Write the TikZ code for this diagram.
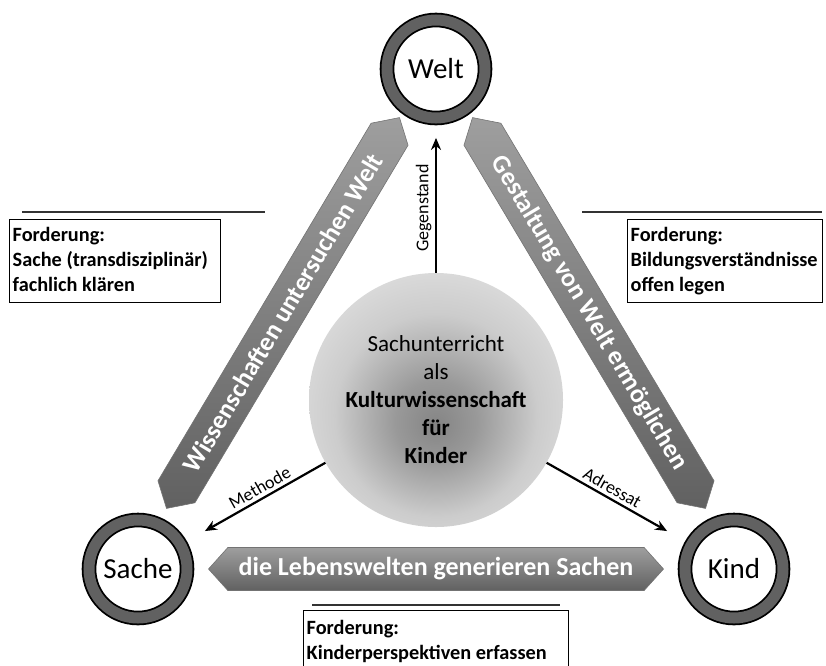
\documentclass[tikz,border=0pt]{standalone}
\usepackage{fontspec}
\setmainfont{Carlito}
\usetikzlibrary{shapes.symbols,positioning,arrows.meta,calc}
\pgfdeclareradialshading{kernschatten}{\pgfpoint{0bp}{-5bp}}{color(0bp)=(black!48); color(8bp)=(black!40); color(20bp)=(black!20); color(34bp)=(black!10); color(50bp)=(black!7)}

\begin{document}
\begin{tikzpicture}[x=1pt, y=-1pt,
  ring/.style={circle, draw=black, line width=1.8pt, double=black!62, double distance=11pt, fill=white, minimum size=98pt, inner sep=0pt, font=\fontsize{29}{34}\selectfont},
  kern/.style={circle, shade, shading=kernschatten, minimum size=254pt, inner sep=0pt, align=center, font=\fontsize{23}{28}\selectfont},
  balken/.style={signal, signal to=west and east, signal pointer angle=96, draw=black!55, line width=0.6pt, top color=black!38, bottom color=black!62, text=white, minimum width=455pt, minimum height=43pt, inner sep=0pt, font=\bfseries\fontsize{26}{30}\selectfont},
  pfeil/.style={-{Stealth[length=12pt, width=10pt]}, line width=2.2pt},
  rolle/.style={font=\fontsize{18}{21}\selectfont, pos=0.42, above, sloped},
  forderung/.style={draw=black, line width=1.4pt, anchor=north west, align=left, inner xsep=3pt, inner ysep=4pt, font=\bfseries\fontsize{20.3}{25}\selectfont},
  trenner/.style={line width=1.4pt, black!80},
]
\useasboundingbox (0,0) rectangle (826,665);

% Ecken des Dreiecks
\node[ring] (welt) at (436,69) {Welt};
\node[ring] (sache) at (138,569) {Sache};
\node[ring] (kind) at (734,569) {Kind};

% Mitte
\node[kern] (mitte) at (436,400) {Sachunterricht\\als\\\textbf{Kulturwissenschaft}\\\textbf{für}\\\textbf{Kinder}};

% Seiten
\node[balken, rotate=59.2] (wissenschaft) at ($(welt)!0.5!(sache)+(-4,-6)$) {Wissenschaften untersuchen Welt};
\node[balken, rotate=-59.2] (gestaltung) at ($(welt)!0.5!(kind)+(4,-6)$) {Gestaltung von Welt ermöglichen};
\node[balken] (lebenswelt) at ($(sache)!0.5!(kind)$) {die Lebenswelten generieren Sachen};

\draw[pfeil, shorten >=19pt] (mitte) -- node[rolle]{Gegenstand} (welt);
\draw[pfeil, shorten >=27pt] (mitte) -- node[rolle]{Methode} (sache);
\draw[pfeil, shorten >=27pt] (mitte) -- node[rolle]{Adressat} (kind);

% Forderungen
\draw[trenner] (22,212) -- (265,212);
\node[forderung, text width=205pt, minimum height=78pt] (lbox) at (9,219)
  {\spaceskip=0pt\xspaceskip=0pt\begin{tabular}{@{}l@{}}Forderung:\\Sache (transdisziplinär)\\fachlich klären\end{tabular}};
\draw[trenner] (582,212) -- (822,212);
\node[forderung, text width=189pt, minimum height=78pt] (rbox) at (627,219)
  {\spaceskip=0pt\xspaceskip=0pt\begin{tabular}{@{}l@{}}Forderung:\\Bildungsverständnisse\\offen legen\end{tabular}};
\draw[trenner] (312,605) -- (560,605);
\node[forderung, text width=259pt, minimum height=62pt] (ubox) at (303,610)
  {\spaceskip=0pt\xspaceskip=0pt\begin{tabular}{@{}l@{}}Forderung:\\Kinderperspektiven erfassen\end{tabular}};
\end{tikzpicture}
\end{document}
